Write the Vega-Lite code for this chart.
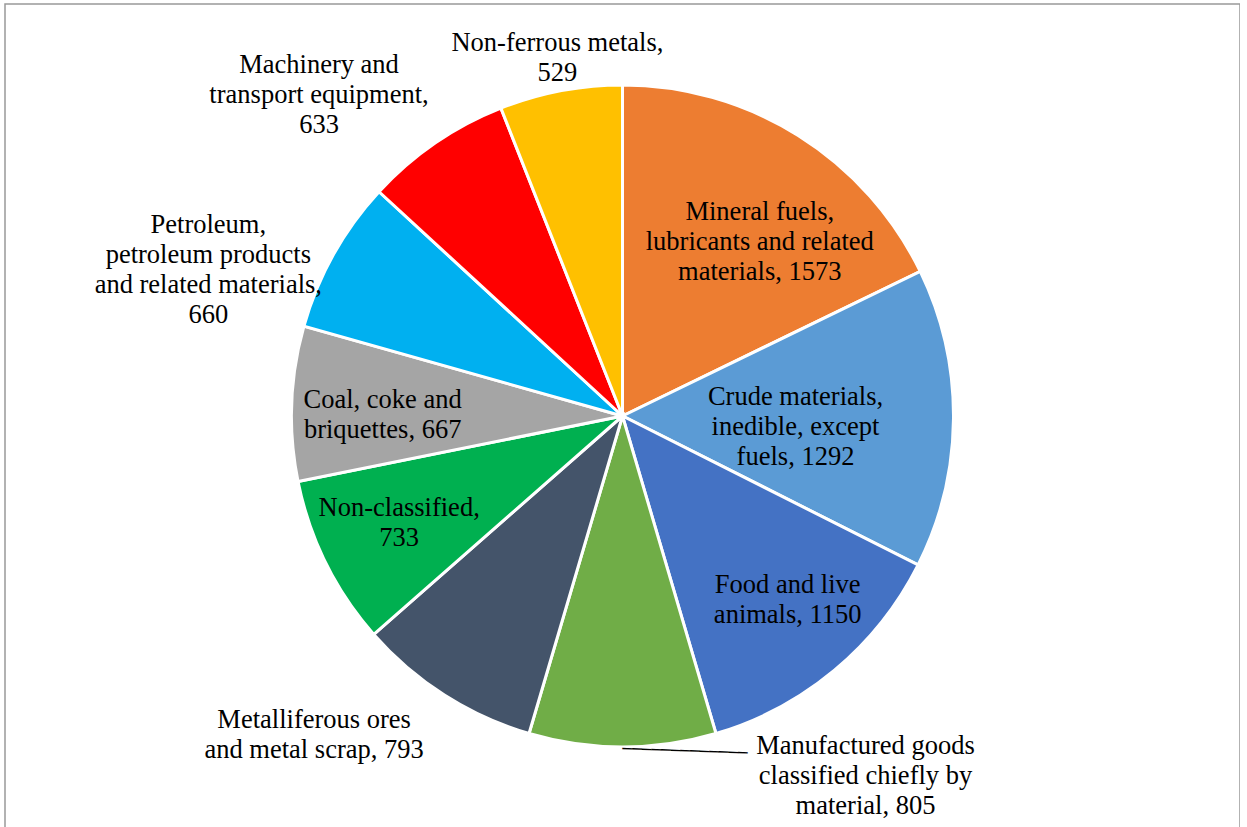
{
  "$schema": "https://vega.github.io/schema/vega-lite/v6.json",
  "width": 1235,
  "height": 824,
  "padding": {"left": 5, "top": 4, "right": 0, "bottom": 0},
  "autosize": {"type": "none"},
  "background": "white",
  "view": {"stroke": "#999999", "strokeWidth": 1.5},
  "data": {
    "values": [
      {"k": 1, "cat": "Mineral fuels, lubricants and related materials", "label": "Mineral fuels,\nlubricants and related\nmaterials, 1573", "value": 1573},
      {"k": 2, "cat": "Crude materials, inedible, except fuels", "label": "Crude materials,\ninedible, except\nfuels, 1292", "value": 1292},
      {"k": 3, "cat": "Food and live animals", "label": "Food and live\nanimals, 1150", "value": 1150},
      {"k": 4, "cat": "Manufactured goods classified chiefly by material", "label": "Manufactured goods\nclassified chiefly by\nmaterial, 805", "value": 805},
      {"k": 5, "cat": "Metalliferous ores and metal scrap", "label": "Metalliferous ores\nand metal scrap, 793", "value": 793},
      {"k": 6, "cat": "Non-classified", "label": "Non-classified,\n733", "value": 733},
      {"k": 7, "cat": "Coal, coke and briquettes", "label": "Coal, coke and\nbriquettes, 667", "value": 667},
      {"k": 8, "cat": "Petroleum, petroleum products and related materials", "label": "Petroleum,\npetroleum products\nand related materials,\n660", "value": 660},
      {"k": 9, "cat": "Machinery and transport equipment", "label": "Machinery and\ntransport equipment,\n633", "value": 633},
      {"k": 10, "cat": "Non-ferrous metals", "label": "Non-ferrous metals,\n529", "value": 529}
    ]
  },
  "encoding": {
    "theta": {"field": "value", "type": "quantitative", "stack": true},
    "order": {"field": "k", "type": "quantitative"}
  },
  "layer": [
    {
      "mark": {"type": "arc", "outerRadius": 331, "stroke": "white", "strokeWidth": 3},
      "encoding": {
        "color": {
          "field": "cat", "type": "nominal", "legend": null,
          "scale": {
            "domain": ["Mineral fuels, lubricants and related materials", "Crude materials, inedible, except fuels", "Food and live animals", "Manufactured goods classified chiefly by material", "Metalliferous ores and metal scrap", "Non-classified", "Coal, coke and briquettes", "Petroleum, petroleum products and related materials", "Machinery and transport equipment", "Non-ferrous metals"],
            "range": ["#ED7D31", "#5B9BD5", "#4472C4", "#70AD47", "#44546A", "#00B050", "#A5A5A5", "#00B0F0", "#FF0000", "#FFC000"]
          }
        }
      }
    },
    {
      "mark": {"type": "text", "radius": 333, "align": "left", "baseline": "middle", "angle": 2, "font": "DejaVu Sans Mono", "fontSize": 16, "color": "black"},
      "encoding": {"text": {"condition": {"test": "datum.k === 4", "value": "─────────────"}, "value": ""}}
    },
    {
      "mark": {"type": "text", "radius": 221, "dx": 20, "dy": -17, "font": "Liberation Serif", "fontSize": 26.5, "lineHeight": 30, "lineBreak": "\n", "align": "center", "baseline": "middle", "color": "black"},
      "encoding": {"text": {"condition": {"test": "datum.k === 1", "field": "label", "type": "nominal"}, "value": ""}}
    },
    {
      "mark": {"type": "text", "radius": 173, "dx": 0, "dy": -20, "font": "Liberation Serif", "fontSize": 26.5, "lineHeight": 30, "lineBreak": "\n", "align": "center", "baseline": "middle", "color": "black"},
      "encoding": {"text": {"condition": {"test": "datum.k === 2", "field": "label", "type": "nominal"}, "value": ""}}
    },
    {
      "mark": {"type": "text", "radius": 247, "dx": 7, "dy": -21, "font": "Liberation Serif", "fontSize": 26.5, "lineHeight": 30, "lineBreak": "\n", "align": "center", "baseline": "middle", "color": "black"},
      "encoding": {"text": {"condition": {"test": "datum.k === 3", "field": "label", "type": "nominal"}, "value": ""}}
    },
    {
      "mark": {"type": "text", "radius": 434, "dx": 243, "dy": -104, "font": "Liberation Serif", "fontSize": 26.5, "lineHeight": 30, "lineBreak": "\n", "align": "center", "baseline": "middle", "color": "black"},
      "encoding": {"text": {"condition": {"test": "datum.k === 4", "field": "label", "type": "nominal"}, "value": ""}}
    },
    {
      "mark": {"type": "text", "radius": 443, "dx": -70, "dy": -69, "font": "Liberation Serif", "fontSize": 26.5, "lineHeight": 30, "lineBreak": "\n", "align": "center", "baseline": "middle", "color": "black"},
      "encoding": {"text": {"condition": {"test": "datum.k === 5", "field": "label", "type": "nominal"}, "value": ""}}
    },
    {
      "mark": {"type": "text", "radius": 247, "dx": -2, "dy": -18, "font": "Liberation Serif", "fontSize": 26.5, "lineHeight": 30, "lineBreak": "\n", "align": "center", "baseline": "middle", "color": "black"},
      "encoding": {"text": {"condition": {"test": "datum.k === 6", "field": "label", "type": "nominal"}, "value": ""}}
    },
    {
      "mark": {"type": "text", "radius": 240, "dx": 0, "dy": -7, "font": "Liberation Serif", "fontSize": 26.5, "lineHeight": 30, "lineBreak": "\n", "align": "center", "baseline": "middle", "color": "black"},
      "encoding": {"text": {"condition": {"test": "datum.k === 7", "field": "label", "type": "nominal"}, "value": ""}}
    },
    {
      "mark": {"type": "text", "radius": 439, "dx": -31, "dy": 23, "font": "Liberation Serif", "fontSize": 26.5, "lineHeight": 30, "lineBreak": "\n", "align": "center", "baseline": "middle", "color": "black"},
      "encoding": {"text": {"condition": {"test": "datum.k === 8", "field": "label", "type": "nominal"}, "value": ""}}
    },
    {
      "mark": {"type": "text", "radius": 441, "dx": -54, "dy": 13, "font": "Liberation Serif", "fontSize": 26.5, "lineHeight": 30, "lineBreak": "\n", "align": "center", "baseline": "middle", "color": "black"},
      "encoding": {"text": {"condition": {"test": "datum.k === 9", "field": "label", "type": "nominal"}, "value": ""}}
    },
    {
      "mark": {"type": "text", "radius": 364, "dx": 3, "dy": -15, "font": "Liberation Serif", "fontSize": 26.5, "lineHeight": 30, "lineBreak": "\n", "align": "center", "baseline": "middle", "color": "black"},
      "encoding": {"text": {"condition": {"test": "datum.k === 10", "field": "label", "type": "nominal"}, "value": ""}}
    }
  ]
}
